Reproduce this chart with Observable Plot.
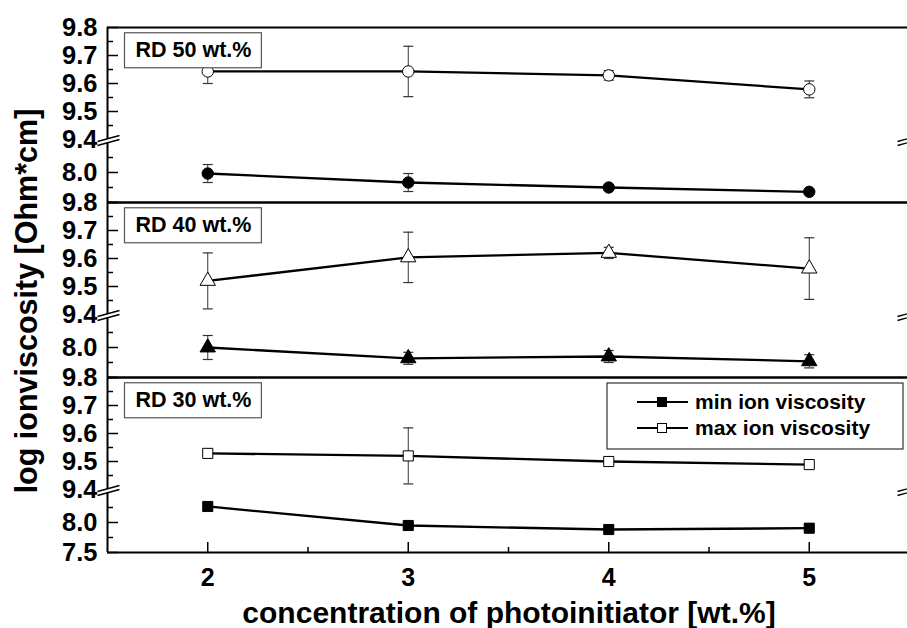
<!DOCTYPE html>
<html><head><meta charset="utf-8">
<script src="https://cdn.jsdelivr.net/npm/d3@7"></script>
<script src="https://cdn.jsdelivr.net/npm/@observablehq/plot@0.6"></script>
<style>
body{margin:0;background:#fff;}
#chart{position:relative;width:907px;height:628px;}
</style></head><body><div id="chart"></div>
<script>
// ---- data ----
const concentration = [2, 3, 4, 5];
const panels = ["RD 50 wt.%", "RD 40 wt.%", "RD 30 wt.%"];
const panelSymbols = ["circle", "triangle", "square"];
const seriesNames = ["min ion viscosity", "max ion viscosity"];

const max50 = [9.643, 9.643, 9.629, 9.579];
const max50Err = [0.043, 0.09, 0.017, 0.03];
const min50 = [7.983, 7.833, 7.75, 7.678];
const min50Err = [0.15, 0.15, 0.04, 0];

const max40 = [9.52, 9.604, 9.62, 9.564];
const max40Err = [0.1, 0.09, 0.02, 0.11];
const min40 = [8.0, 7.82, 7.85, 7.77];
const min40Err = [0.2, 0.1, 0.1, 0.11];

const max30 = [9.529, 9.52, 9.5, 9.489];
const max30Err = [0, 0.1, 0, 0];
const min30 = [8.267, 7.95, 7.883, 7.905];
const min30Err = [0, 0.03, 0.03, 0];

const yMajorTicks = [8.0, 9.4, 9.5, 9.6, 9.7, 9.8];
const yMinorTicks = [7.75, 8.25, 9.45, 9.55, 9.65, 9.75];
const yBottomTick = [7.5];
const yTop = 9.8;
const xMajorTicks = [2, 3, 4, 5];
const xMinorTicks = [2.5, 3.5, 4.5];
const xDomain = [1.5, 5.49];

// broken axis: lower segment 7.5 .. 8.55, upper segment 9.4 .. 9.8
const breakLow = 8.55, breakHigh = 9.4;
const segmentRatio = 60 / 280; // lower segment is compressed relative to upper one

const xLabel = "concentration of photoinitiator [wt.%]";
const yLabel = "log ionviscosity [Ohm*cm]";

// map a value onto the continuous (broken) axis and back
const toAxis = v => v >= breakHigh ? v : breakHigh - (breakLow - v) * segmentRatio;
const fromAxis = a => a >= breakHigh - 1e-9 ? a : breakLow - (breakHigh - a) / segmentRatio;

// ---- tables ----
const seriesTable = [
  [panels[0], seriesNames[0], min50, min50Err],
  [panels[0], seriesNames[1], max50, max50Err],
  [panels[1], seriesNames[0], min40, min40Err],
  [panels[1], seriesNames[1], max40, max40Err],
  [panels[2], seriesNames[0], min30, min30Err],
  [panels[2], seriesNames[1], max30, max30Err]
];
const rows = seriesTable.flatMap(([panel, series, vals, errs]) =>
  concentration.map((x, i) => ({panel, series, x, y: vals[i], err: errs[i]})));
const errRows = rows.filter(d => d.err > 0);
const panelRows = panels.map(panel => ({panel}));
const breakRows = panels.map(panel => ({panel, y: breakHigh}));
const bottomTickRows = [{panel: panels[2], value: yBottomTick[0]}];

// ---- custom symbols ----
const capSymbol = {draw(c) { c.moveTo(-5, 0); c.lineTo(5, 0); }};
const breakFill = {draw(c) { c.moveTo(-10, 2.2); c.lineTo(12, -3.8); c.lineTo(12, -0.2); c.lineTo(-10, 5.8); c.closePath(); }};
const breakLines = {draw(c) { c.moveTo(-10, 2); c.lineTo(12, -4); c.moveTo(-10, 6); c.lineTo(12, 0); }};

const FONT = "'Liberation Sans', Arial, Helvetica, sans-serif";

const chart = Plot.plot({
  width: 907,
  height: 628,
  marginTop: 27,
  marginLeft: 107,
  marginRight: 0,
  marginBottom: 76,
  style: {fontFamily: FONT, background: "#fff", color: "#000"},
  x: {domain: xDomain},
  y: {domain: [toAxis(yBottomTick[0]), yTop]},
  fy: {domain: panels, padding: 0, axis: null},
  symbol: {domain: panels, range: panelSymbols},
  marks: [
    // frame lines
    Plot.ruleY([toAxis(yTop)], {stroke: "#000", strokeWidth: 2}),
    Plot.ruleY(yBottomTick.map(toAxis), {stroke: "#000", strokeWidth: 2}),
    Plot.ruleX([xDomain[0]], {stroke: "#000", strokeWidth: 2}),
    // inward y ticks
    Plot.axisY(yMajorTicks.concat(yBottomTick).map(toAxis), {tickSize: 11, dx: 11, fill: "none", label: null, strokeWidth: 1.5}),
    Plot.axisY(yMinorTicks.map(toAxis), {tickSize: 6, dx: 6, fill: "none", label: null, strokeWidth: 1.5}),
    // y tick labels
    Plot.axisY(yMajorTicks.map(toAxis), {tickSize: 0, tickPadding: 10, tickFormat: a => fromAxis(a).toFixed(1), fontSize: 25.5, fontWeight: "bold", label: null}),
    Plot.text(bottomTickRows, {fy: "panel", y: d => toAxis(d.value), text: d => d.value.toFixed(1), frameAnchor: "left", dx: -10, textAnchor: "end", fontSize: 25.5, fontWeight: "bold"}),
    // inward x ticks and labels
    Plot.axisX(xMajorTicks, {tickSize: 10, dy: -10, fill: "none", label: null, strokeWidth: 1.5}),
    Plot.axisX(xMinorTicks, {tickSize: 5, dy: -5, fill: "none", label: null, strokeWidth: 1.5}),
    Plot.axisX(xMajorTicks, {tickSize: 0, tickPadding: 16, tickFormat: d => String(d), fontSize: 25, fontWeight: "bold", label: null}),
    // axis breaks
    Plot.dot(breakRows, {fy: "panel", y: d => toAxis(d.y), frameAnchor: "left", symbol: breakFill, fill: "#fff", stroke: "none"}),
    Plot.dot(breakRows, {fy: "panel", y: d => toAxis(d.y), frameAnchor: "left", symbol: breakLines, fill: "none", stroke: "#000", strokeWidth: 1.3}),
    Plot.dot(breakRows, {fy: "panel", y: d => toAxis(d.y), frameAnchor: "right", symbol: breakFill, fill: "#fff", stroke: "none"}),
    Plot.dot(breakRows, {fy: "panel", y: d => toAxis(d.y), frameAnchor: "right", symbol: breakLines, fill: "none", stroke: "#000", strokeWidth: 1.3}),
    // lines
    Plot.line(rows, {fy: "panel", x: "x", y: d => toAxis(d.y), z: d => d.panel + d.series, stroke: "#000", strokeWidth: 2.3}),
    // error bars
    Plot.ruleX(errRows, {fy: "panel", x: "x", y1: d => toAxis(d.y - d.err), y2: d => toAxis(d.y + d.err), stroke: "#333", strokeWidth: 1}),
    Plot.dot(errRows, {fy: "panel", x: "x", y: d => toAxis(d.y + d.err), symbol: capSymbol, fill: "none", stroke: "#333", strokeWidth: 1.2}),
    Plot.dot(errRows, {fy: "panel", x: "x", y: d => toAxis(d.y - d.err), symbol: capSymbol, fill: "none", stroke: "#333", strokeWidth: 1.2}),
    // markers
    Plot.dot(rows, {fy: "panel", x: "x", y: d => toAxis(d.y), symbol: "panel", r: 5.7,
      fill: d => d.series === seriesNames[1] ? "#fff" : "#000", stroke: "#000", strokeWidth: 1}),
    // panel labels
    Plot.text(panelRows, {fy: "panel", text: "panel", frameAnchor: "top-left", dx: 28, dy: 14, lineAnchor: "top", textAnchor: "start", fontSize: 21.5, fontWeight: "bold"})
  ]
});

const host = document.getElementById("chart");
host.appendChild(chart);
const NS = "http://www.w3.org/2000/svg";

// boxes behind panel labels
Array.from(chart.querySelectorAll("text")).filter(t => panels.includes(t.textContent)).forEach(t => {
  const b = t.getBBox();
  const r = document.createElementNS(NS, "rect");
  r.setAttribute("x", b.x - 11);
  r.setAttribute("y", b.y - 5);
  r.setAttribute("width", b.width + 21);
  r.setAttribute("height", b.height + 11);
  r.setAttribute("fill", "#fff");
  r.setAttribute("stroke", "#555");
  r.setAttribute("stroke-width", 1.2);
  const tr = t.getAttribute("transform");
  if (tr) r.setAttribute("transform", tr);
  t.parentNode.insertBefore(r, t);
});

const svg = d3.select(chart);
// legend (inside bottom panel)
const lg = svg.append("g").attr("font-family", FONT).attr("text-anchor", "start");
lg.append("rect").attr("x", 607).attr("y", 383).attr("width", 296).attr("height", 66)
  .attr("fill", "#fff").attr("stroke", "#333").attr("stroke-width", 1.2);
seriesNames.forEach((name, i) => {
  const cy = 402 + i * 26;
  lg.append("line").attr("x1", 637).attr("x2", 688).attr("y1", cy).attr("y2", cy)
    .attr("stroke", "#000").attr("stroke-width", 2.2);
  lg.append("rect").attr("x", 657.5).attr("y", cy - 4.5).attr("width", 9).attr("height", 9)
    .attr("fill", i === 0 ? "#000" : "#fff").attr("stroke", "#000").attr("stroke-width", 1);
  lg.append("text").attr("x", 695).attr("y", cy).attr("dy", "0.35em")
    .attr("font-size", 21).attr("font-weight", "bold").text(name);
});

// axis titles
svg.append("text").attr("x", 509).attr("y", 623).attr("text-anchor", "middle")
  .attr("font-family", FONT).attr("font-size", 30).attr("font-weight", "bold").text(xLabel);
svg.append("text").attr("transform", "translate(37,301) rotate(-90)").attr("text-anchor", "middle")
  .attr("font-family", FONT).attr("font-size", 30.5).attr("font-weight", "bold").text(yLabel);
</script>
</body></html>
